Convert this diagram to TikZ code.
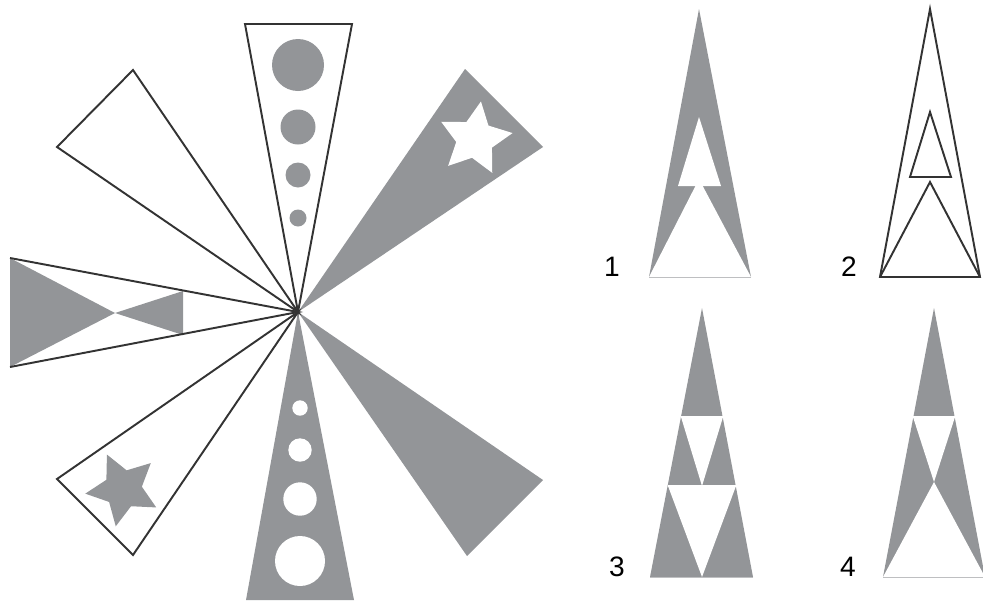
\documentclass[tikz,border=0pt]{standalone}
\usepackage{fontspec}
\setmainfont{Liberation Sans}
\usepackage{tikz}

\definecolor{shade}{HTML}{939598}
\definecolor{ink}{HTML}{333333}

\begin{document}
\begin{tikzpicture}[x=0.02cm, y=-0.02cm,
  piece/.style={fill=shade},
  outline/.style={draw=ink, line width=1.1pt},
  gap/.style={draw=white, line width=0.7pt},
  rim/.style={draw=shade!60, line width=0.5pt},
  num/.style={font=\fontsize{16}{16}\selectfont},
  fivestar/.pic={\path[pic actions] (90:38) \foreach \k in {0,...,4} { -- ({126+72*\k}:19) -- ({162+72*\k}:38) } -- cycle;}]
  \useasboundingbox (0,0) rectangle (983,602);
  \coordinate (c) at (298,312);

  % pinwheel: grey pieces
  \fill[piece] (c) -- (465,69) -- (543,147) -- cycle;
  \pic[fill=white, rotate=27] (starA) at (475,139) {fivestar};
  \fill[piece] (c) -- (543,480) -- (467,556) -- cycle;
  \fill[piece] (c) -- (246,600) -- (354,600) -- cycle;
  \foreach \yy/\rr in {408/7.7, 450/11.7, 499/16.7, 561/25}
    \fill[white] (300,\yy) circle[radius=\rr];

  % pinwheel: outlined pieces
  \draw[outline] (c) -- (245,24) -- (352,24) -- cycle;
  \foreach \yy/\rr in {65/26, 127/17.5, 175/12.5, 218/8.5}
    \fill[piece] (298,\yy) circle[radius=\rr];
  \draw[outline] (c) -- (57,147) -- (133,70) -- cycle;
  \draw[outline] (c) -- (57,479) -- (133,555) -- cycle;
  \pic[fill=shade, rotate=61] (starB) at (123,489) {fivestar};
  \fill[piece] (10,258) -- (10,367) -- (115,313) -- cycle;
  \fill[piece] (115,313) -- (183,291) -- (183,335) -- cycle;
  \draw[outline] (10,258) -- (c) -- (10,367);

  % option 1
  \fill[piece] (699,9) -- (649,277) -- (751,277) -- cycle;
  \fill[white] (699,117) -- (678,186) -- (721,186) -- cycle;
  \fill[white] (649,277) -- (699,179) -- (751,277) -- cycle;
  \draw[rim] (649,277) -- (751,277);
  \node[num] (n1) at (612,267) {1};

  % option 2
  \draw[outline] (930,9) -- (880,277) -- (980,277) -- cycle;
  \draw[outline] (930,112) -- (910,177) -- (951,177) -- cycle;
  \draw[outline] (880,277) -- (930,182) -- (980,277);
  \node[num] (n2) at (849,267) {2};

  % option 3
  \fill[piece] (702,308) -- (650,577) -- (753,577) -- cycle;
  \fill[white] (681,417) -- (723,417) -- (702,486) -- cycle;
  \fill[white] (668,486) -- (736,486) -- (702,577) -- cycle;
  \draw[gap] (681,417) -- (723,417);
  \draw[gap] (668,486) -- (736,486);
  \draw[rim] (650,577) -- (753,577);
  \node[num] (n3) at (617,567) {3};

  % option 4
  \fill[piece] (934,308) -- (883,577) -- (985,577) -- cycle;
  \fill[white] (913,417) -- (955,417) -- (934,482) -- cycle;
  \fill[white] (883,577) -- (934,482) -- (985,577) -- cycle;
  \draw[gap] (913,417) -- (955,417);
  \draw[rim] (883,577) -- (985,577);
  \node[num] (n4) at (848,567) {4};
\end{tikzpicture}
\end{document}
